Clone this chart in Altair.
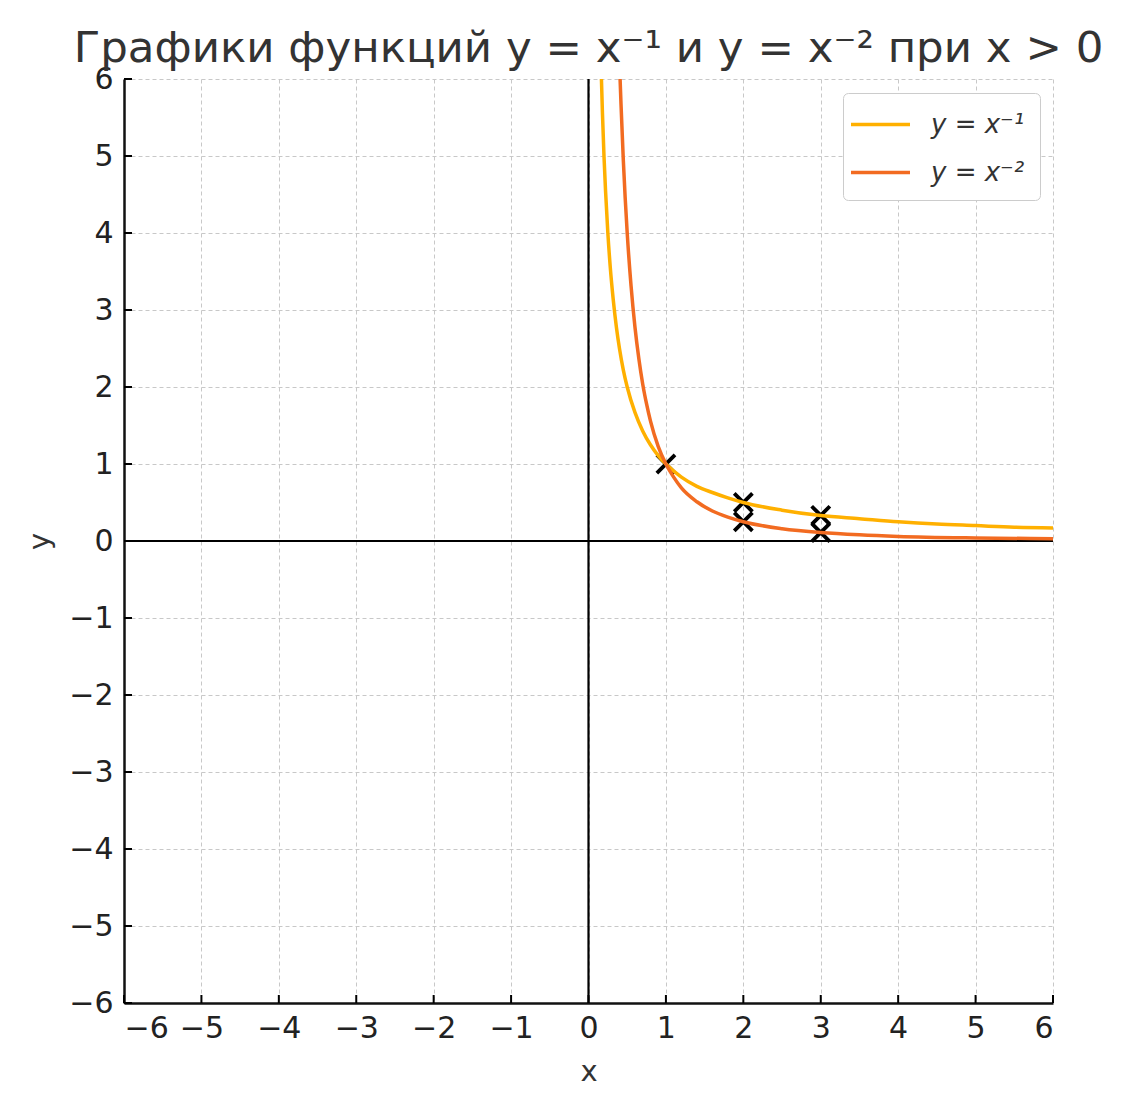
import altair as alt
import pandas as pd

# Curve y = x^-1
x1 = [0.167, 0.18, 0.2, 0.22, 0.25, 0.28, 0.32, 0.36, 0.4, 0.45, 0.5, 0.6, 0.7, 0.8, 0.9,
      1.0, 1.2, 1.4, 1.6, 1.8, 2.0, 2.5, 3.0, 3.5, 4.0, 4.5, 5.0, 5.5, 6.0]
y1 = [6.0, 5.56, 5.0, 4.55, 4.0, 3.57, 3.13, 2.78, 2.5, 2.22, 2.0, 1.67, 1.43, 1.25, 1.11,
      1.0, 0.83, 0.71, 0.63, 0.56, 0.5, 0.4, 0.33, 0.29, 0.25, 0.22, 0.2, 0.18, 0.17]
# Curve y = x^-2
x2 = [0.408, 0.42, 0.45, 0.5, 0.55, 0.6, 0.65, 0.7, 0.75, 0.8, 0.9, 1.0, 1.1, 1.2, 1.4,
      1.6, 1.8, 2.0, 2.5, 3.0, 3.5, 4.0, 5.0, 6.0]
y2 = [6.0, 5.67, 4.94, 4.0, 3.31, 2.78, 2.37, 2.04, 1.78, 1.56, 1.23, 1.0, 0.83, 0.69, 0.51,
      0.39, 0.31, 0.25, 0.16, 0.11, 0.08, 0.06, 0.04, 0.03]
# Marked points
mx = [1, 2, 2, 3, 3]
my = [1.0, 0.5, 0.25, 0.333, 0.111]

labels = ["y = x⁻¹", "y = x⁻²"]
colors = ["#ffb000", "#f26b21"]
ticks = list(range(-6, 7))

W, H = 929, 924

curves = pd.DataFrame(
    {"x": x1 + x2, "y": y1 + y2,
     "f": [labels[0]] * len(x1) + [labels[1]] * len(x2),
     "o": list(range(len(x1))) + list(range(len(x2)))}
)
pts = pd.DataFrame({"x": mx, "y": my})
tk = pd.DataFrame({"t": ticks})

xs = alt.Scale(domain=[-6, 6], nice=False, zero=False)
ys = alt.Scale(domain=[-6, 6], nice=False, zero=False)

xax = alt.Axis(values=ticks, title="x", format="d", ticks=False, labelPadding=10, titlePadding=14)
yax = alt.Axis(values=ticks, title="y", format="d", ticks=False, labelPadding=11, titlePadding=14)

# inward tick marks
xt = alt.Chart(tk).mark_rule(color="black", strokeWidth=2).encode(
    x=alt.X("t:Q", scale=xs, axis=xax), y=alt.value(H), y2=alt.value(H - 8))
yt = alt.Chart(tk).mark_rule(color="black", strokeWidth=2).encode(
    y=alt.Y("t:Q", scale=ys, axis=yax), x=alt.value(0), x2=alt.value(8))

zx = alt.Chart(pd.DataFrame({"v": [0]})).mark_rule(color="black", strokeWidth=2.2).encode(
    x=alt.X("v:Q", scale=xs, axis=xax))
zy = alt.Chart(pd.DataFrame({"v": [0]})).mark_rule(color="black", strokeWidth=2.2).encode(
    y=alt.Y("v:Q", scale=ys, axis=yax))

marks = alt.Chart(pts).mark_point(
    shape="M-1,-1L1,1M1,-1L-1,1", size=330, filled=False, color="black", strokeWidth=3.8, opacity=1
).encode(x=alt.X("x:Q", scale=xs, axis=xax), y=alt.Y("y:Q", scale=ys, axis=yax))

lines = alt.Chart(curves).mark_line(strokeWidth=3.5, clip=True, interpolate="monotone").encode(
    x=alt.X("x:Q", scale=xs, axis=xax),
    y=alt.Y("y:Q", scale=ys, axis=yax),
    order="o:Q",
    color=alt.Color(
        "f:N",
        scale=alt.Scale(domain=labels, range=colors),
        legend=alt.Legend(
            title="\u2800" * 18, titleOrient="bottom", titleFontSize=14, titlePadding=0,
            titleFont="DejaVu Sans", titleLimit=1000,
            orient="none", legendX=719, legendY=14,
            symbolType="stroke", symbolSize=3481, symbolStrokeWidth=3.5,
            labelFontSize=26, labelFontStyle="italic", labelColor="#333",
            labelFont="DejaVu Sans", labelOffset=19,
            padding=0, rowPadding=3, symbolOffset=6,
            strokeColor="#cccccc", fillColor="white", cornerRadius=5,
        ),
    ),
)

chart = (
    alt.layer(xt, yt, zx, zy, marks, lines)
    .properties(
        width=W, height=H,
        title=alt.Title("Графики функций y = x⁻¹ и y = x⁻² при x > 0",
                        fontSize=43.5, font="DejaVu Sans", fontWeight="normal",
                        color="#333333", offset=-7, anchor="middle"),
        autosize=alt.AutoSizeParams(type="none"),
        padding={"left": 116, "top": 71, "right": 60, "bottom": 95},
    )
    .configure_view(stroke=None)
    .configure_axis(
        domainColor="#111111", domainWidth=2.5,
        labelFontSize=30, labelFont="DejaVu Sans", labelColor="#222222",
        titleFontSize=29, titleFont="DejaVu Sans", titleFontWeight="normal", titleColor="#333333",
        gridColor="#c8c8c8", gridDash=[4, 3], gridWidth=1,
    )
)

chart.save("out.html", embed_options={"renderer": "svg", "actions": False})
